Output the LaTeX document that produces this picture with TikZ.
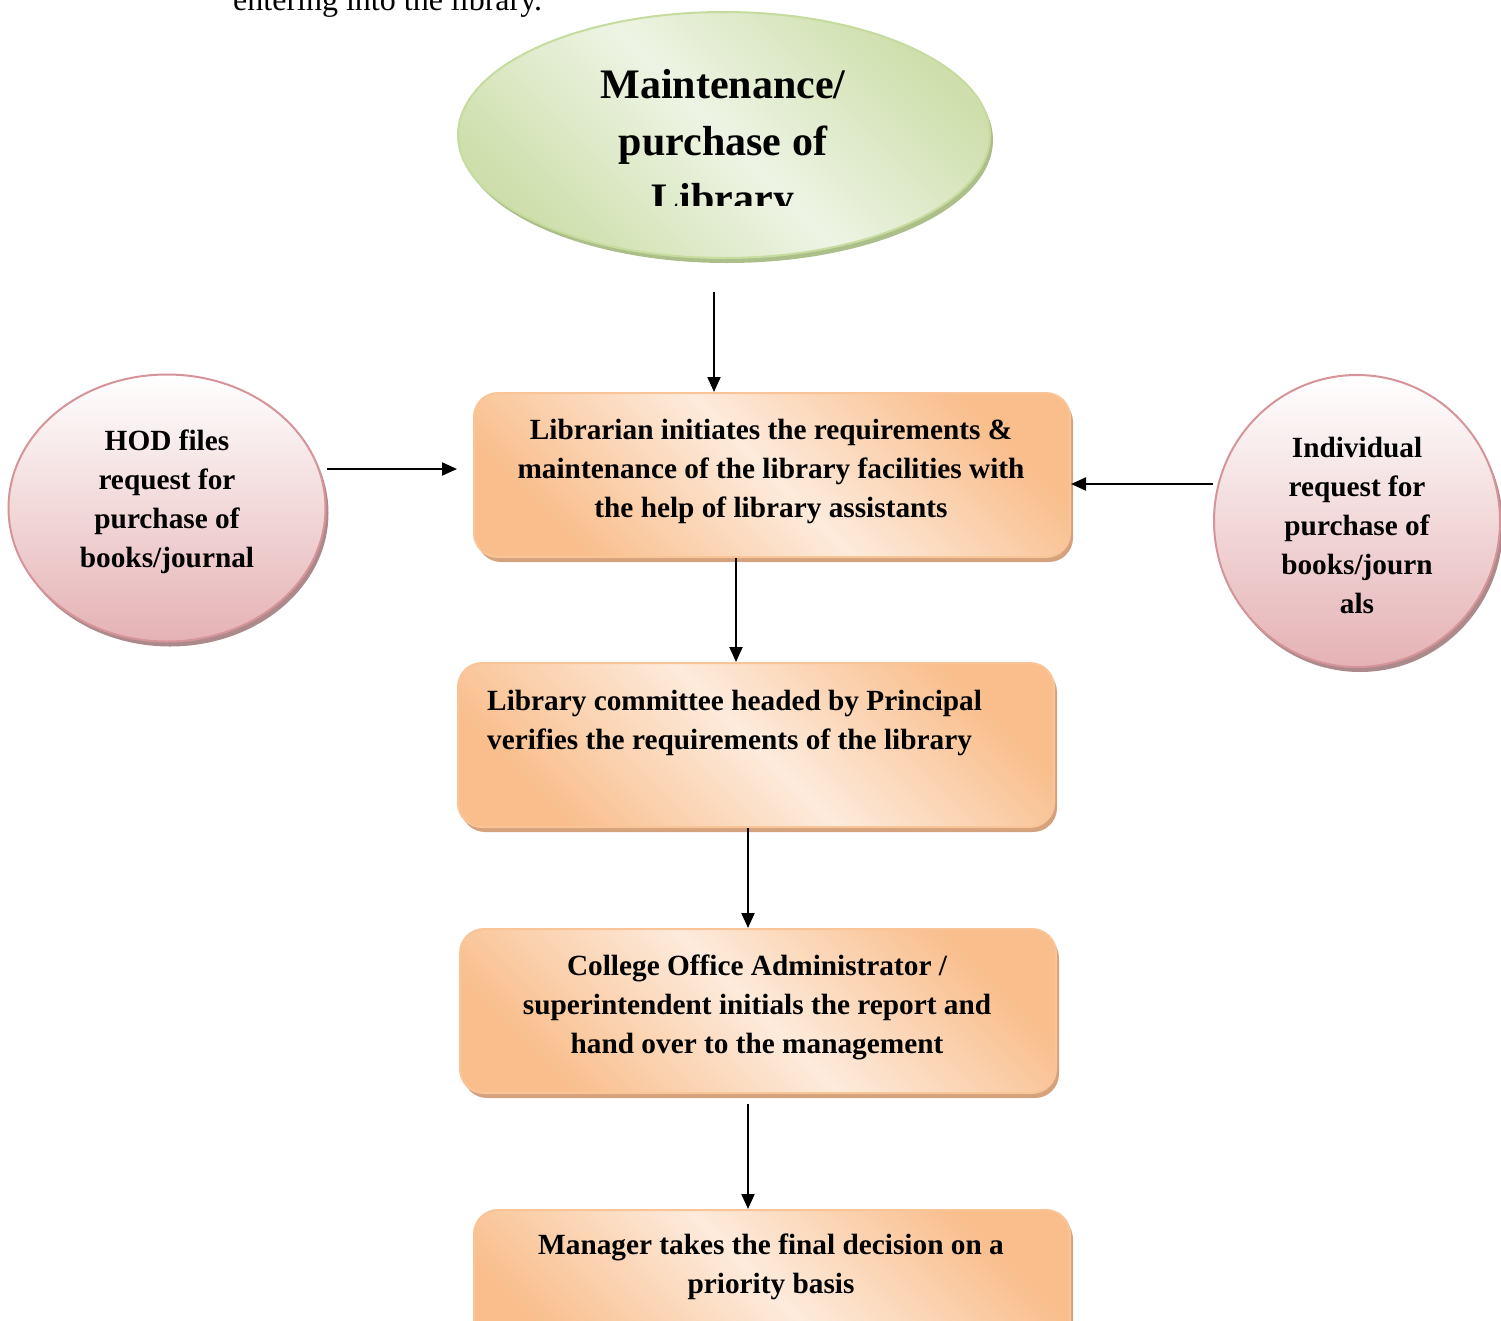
\documentclass[tikz,border=0pt]{standalone}
\usepackage{fontspec}
\setmainfont{Liberation Serif}
\usetikzlibrary{shadows,arrows.meta,shapes.geometric}

\definecolor{orgdark}{RGB}{249,190,140}
\definecolor{orglight}{RGB}{253,235,220}
\definecolor{orgedge}{RGB}{248,196,152}
\definecolor{orgshadow}{RGB}{212,163,125}
\definecolor{grnlight}{RGB}{238,244,228}
\definecolor{grndark}{RGB}{206,223,172}
\definecolor{grnedge}{RGB}{198,219,158}
\definecolor{grnshadow}{RGB}{172,190,138}
\definecolor{pinkdark}{RGB}{229,178,180}
\definecolor{pinkedge}{RGB}{214,148,152}
\definecolor{pinkshadow}{RGB}{172,138,140}

\begin{document}
\begin{tikzpicture}[x=1pt,y=-1pt,
  stepbox/.style={rectangle, rounded corners=24pt, draw=orgedge, line width=2pt,
    minimum width=596pt, minimum height=164pt,
    top color=orgdark, bottom color=orgdark, middle color=orglight, shading angle=-45,
    general shadow={shadow xshift=3pt, shadow yshift=-5pt, fill=orgshadow}},
  bubble/.style={ellipse, draw=pinkedge, line width=2pt,
    top color=white, bottom color=pinkdark,
    general shadow={shadow xshift=3pt, shadow yshift=-5pt, fill=pinkshadow}},
  headoval/.style={ellipse, draw=grnedge, line width=2pt,
    minimum width=532pt, minimum height=246pt,
    top color=grndark, bottom color=grndark, middle color=grnlight, shading angle=-45,
    general shadow={shadow xshift=3pt, shadow yshift=-5pt, fill=grnshadow}},
  txt/.style={font=\fontsize{29.3}{39}\selectfont\bfseries, align=center, inner sep=0pt},
  arr/.style={draw=black, line width=2pt, -{Triangle[length=15pt,width=13pt]}}
]
\useasboundingbox (0,0) rectangle (1501,1320);

% running text of the page above the chart
\node[anchor=base west, inner sep=0pt, font=\fontsize{32}{38}\selectfont] (runtext) at (233,10) {entering into the library.};

% heading oval, its label cut off by the text frame
\node[headoval] (title) at (724,135) {};
\begin{scope}
  \clip (440,0) rectangle (1010,205);
  \node[txt, font=\fontsize{42}{57}\selectfont\bfseries] (titletext) at (723,145) {Maintenance/\\purchase of\\Library};
\end{scope}

% side requests
\node[bubble, minimum width=317pt, minimum height=267pt] (hod) at (167,508) {};
\node[txt] (hodtext) at (167,502) {HOD files\\request for\\purchase of\\books/journal};

\node[bubble, minimum width=286pt, minimum height=292pt] (indiv) at (1357,521) {};
\node[txt] (indivtext) at (1357,525) {Individual\\request for\\purchase of\\books/journ\\als};

% process steps
\node[stepbox] (box1) at (772,475) {};
\node[txt] (box1text) at (771,471) {Librarian initiates the requirements \&\\maintenance of the library facilities with\\the help of library assistants};

\node[stepbox] (box2) at (756,745) {};
\node[txt, anchor=west, align=left] (box2text) at (487,723) {Library committee headed by Principal\\verifies the requirements of the library};

\node[stepbox] (box3) at (758,1011) {};
\node[txt] (box3text) at (757,1007) {College Office Administrator /\\superintendent initials the report and\\hand over to the management};

\node[stepbox] (box4) at (772,1292) {};
\node[txt] (box4text) at (771,1267) {Manager takes the final decision on a\\priority basis};

% connectors
\coordinate (c1) at (714,0);
\coordinate (c2) at (736,0);
\coordinate (c3) at (748,0);
\coordinate (r1) at (0,469);
\coordinate (r2) at (0,484);

\draw[arr, shorten <=33pt] (title.south -| c1) -- (box1.north -| c1);
\draw[arr, shorten >=16pt] (hod.east |- r1) -- (box1.west |- r1);
\draw[arr] (indiv.west |- r2) -- (box1.east |- r2);
\draw[arr] (box1.south -| c2) -- (box2.north -| c2);
\draw[arr] (box2.south -| c3) -- (box3.north -| c3);
\draw[arr, shorten <=10pt] (box3.south -| c3) -- (box4.north -| c3);
\end{tikzpicture}
\end{document}
